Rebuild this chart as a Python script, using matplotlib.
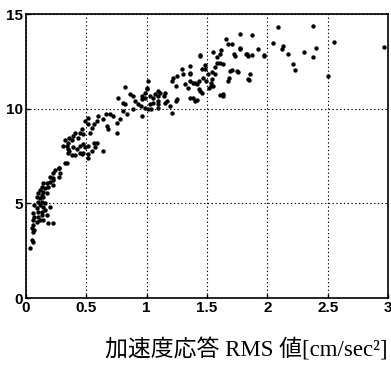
import numpy as np
import matplotlib
matplotlib.use("Agg")
from matplotlib import pyplot as plt

# acceleration response RMS [cm/sec^2] vs response value
rms_x = [
    1.77, 1.87, 1.77, 1.82, 1.87, 1.92, 1.97, 2.09, 2.05, 2.13, 2.12, 2.17, 2.21, 2.23, 2.30,
    2.38, 2.40, 2.38, 2.50, 2.55, 2.97, 1.86, 1.85, 1.66, 1.67, 1.71, 1.77, 1.72, 1.73, 1.55,
    1.62, 1.44, 1.58, 1.58, 1.48, 1.48, 1.46, 1.54, 1.57, 1.61, 1.71, 1.76, 1.68, 1.67, 1.47,
    1.49, 1.53, 1.55, 1.52, 1.36, 1.36, 1.38, 1.42, 1.43, 1.44, 1.46, 1.38, 1.42, 1.61, 1.63,
    1.63, 1.97,
    1.44, 1.61, 1.63, 1.36, 1.29, 1.30, 1.22, 1.25, 1.21, 1.36, 1.40, 1.43, 1.51, 1.54, 1.53,
    1.57, 1.69, 1.36, 1.40, 1.32, 1.34, 1.24, 1.25, 1.24, 1.15, 1.14, 1.11, 1.09, 1.07, 1.05,
    1.03, 0.99, 0.99, 1.01, 1.00, 0.96, 0.95, 0.99, 1.05, 1.09, 1.15, 1.17, 1.19, 1.21, 1.09,
    1.04, 0.96, 1.84, 1.84, 1.75, 1.83,
    0.82, 0.76, 0.86, 0.89, 0.90, 0.93, 0.96, 1.00, 1.09, 1.09, 1.03, 1.01, 0.80, 0.80, 0.82,
    0.89, 0.84, 0.78, 0.75, 0.70, 0.72, 0.66, 0.64, 0.60, 0.59, 0.67, 0.68, 0.75, 0.56, 0.55,
    0.53, 0.51, 0.49, 0.51, 0.46, 0.47, 0.45, 0.43, 0.41, 0.39, 0.38, 0.36, 0.35, 0.32, 0.31,
    0.34, 0.35, 0.36, 0.39, 0.42, 0.45, 0.47, 0.49, 0.51, 0.56, 0.59, 0.57, 0.55, 0.51, 0.51,
    0.47, 0.45, 0.41, 0.38, 0.64, 0.32, 0.27, 0.24,
    0.35, 0.46, 0.34, 0.27, 0.22, 0.27, 0.22, 0.20, 0.17, 0.14, 0.22, 0.13, 0.16, 0.12, 0.14,
    0.10, 0.13, 0.09, 0.12, 0.14, 0.10, 0.13, 0.07, 0.12, 0.14, 0.09, 0.10, 0.13, 0.16, 0.06,
    0.07, 0.10, 0.13, 0.06, 0.09, 0.12, 0.14, 0.18, 0.22, 0.06, 0.05, 0.07, 0.06, 0.05, 0.06,
    0.03, 0.28, 0.20, 0.18, 0.17, 0.16, 0.20, 0.17, 0.22,
]
resp_y = [
    13.95, 13.89, 13.16, 12.89, 12.84, 13.16, 12.79, 14.32, 13.47, 13.32, 13.16, 12.89, 12.37, 12.05, 13.00,
    14.37, 13.21, 12.74, 11.74, 13.53, 13.26, 11.84, 11.53, 13.68, 13.42, 13.42, 13.21, 12.89, 12.79, 13.00,
    13.10, 12.84, 12.74, 12.42, 12.32, 12.11, 12.11, 11.95, 12.21, 12.42, 12.05, 11.95, 11.63, 11.47, 11.63,
    11.47, 11.37, 11.21, 11.11, 11.89, 11.47, 11.37, 11.32, 11.05, 10.95, 10.84, 10.58, 10.47, 10.74, 10.79,
    10.68, 12.84,
    12.79, 12.89, 12.37, 12.26, 12.11, 11.84, 11.63, 11.74, 11.47, 11.84, 11.37, 11.47, 11.84, 11.58, 11.21,
    11.84, 12.00, 10.58, 10.42, 11.32, 11.11, 11.21, 10.53, 10.42, 10.84, 10.68, 10.84, 10.68, 10.79, 10.58,
    10.68, 10.84, 10.58, 11.47, 11.11, 10.68, 10.16, 10.05, 10.32, 10.42, 10.32, 10.42, 10.16, 9.79, 10.05,
    10.00, 9.63, 12.79, 11.58, 12.00, 12.89,
    11.16, 10.58, 10.79, 10.68, 10.42, 10.26, 10.53, 11.05, 10.95, 10.26, 10.26, 10.00, 10.32, 9.89, 10.26,
    10.00, 9.74, 9.47, 9.26, 9.74, 9.63, 9.74, 9.47, 9.63, 9.37, 9.11, 8.95, 8.74, 9.21, 9.00,
    8.74, 9.53, 9.37, 9.21, 8.95, 8.68, 8.74, 8.47, 8.74, 8.58, 8.32, 8.47, 8.21, 8.32, 8.05,
    8.05, 7.89, 7.79, 7.95, 7.89, 8.05, 8.16, 7.95, 8.05, 8.21, 8.21, 7.95, 7.79, 7.63, 7.37,
    7.68, 7.68, 7.53, 7.53, 7.79, 7.11, 6.84, 6.74,
    7.68, 7.63, 7.11, 6.89, 6.58, 6.37, 6.21, 6.11, 6.05, 6.05, 5.95, 5.84, 5.79, 5.68, 5.58,
    5.53, 5.42, 5.32, 5.26, 5.32, 5.05, 5.05, 4.89, 4.89, 4.79, 4.74, 4.53, 4.53, 4.63, 4.47,
    4.26, 4.26, 4.37, 4.11, 4.00, 4.11, 4.11, 3.95, 3.95, 3.84, 3.68, 3.58, 3.47, 3.05, 2.95,
    2.63, 6.58, 6.37, 5.84, 5.53, 5.00, 4.79, 4.37, 6.32,
]

x_ticks = [0, 0.5, 1, 1.5, 2, 2.5, 3]
x_ticklabels = ["0", "0.5", "1", "1.5", "2", "2.5", "3"]
y_ticks = [0, 5, 10, 15]
y_ticklabels = ["0", "5", "10", "15"]

fig = plt.figure(figsize=(3.91, 3.67), dpi=100)
ax = fig.add_axes([26 / 391, 1 - 298 / 367, 362 / 391, 284 / 367])

ax.scatter(rms_x, resp_y, s=10, c="black", marker="o", linewidths=0, zorder=3)

ax.set_xlim(0, 3)
ax.set_ylim(0, 15)
ax.set_xticks(x_ticks)
ax.set_xticklabels(x_ticklabels)
ax.set_yticks(y_ticks)
ax.set_yticklabels(y_ticklabels)
ax.grid(True, color="black", linestyle=(0, (1.2, 2.2)), linewidth=0.8)
ax.tick_params(direction="in", length=3, width=1, pad=2, labelsize=11)
for lbl in ax.get_xticklabels() + ax.get_yticklabels():
    lbl.set_fontweight("bold")
    lbl.set_family("Liberation Sans")
for sp in ax.spines.values():
    sp.set_linewidth(1.2)

# superscript as a plain character so the CJK font fallback keeps working
fig.text(388 / 391, 1 - 350 / 367, "加速度応答 RMS 値[cm/sec²]", ha="right", va="center",
         fontsize=16.5, family=["Liberation Serif", "Noto Sans CJK JP"])

fig.savefig("out.png", dpi=100)
